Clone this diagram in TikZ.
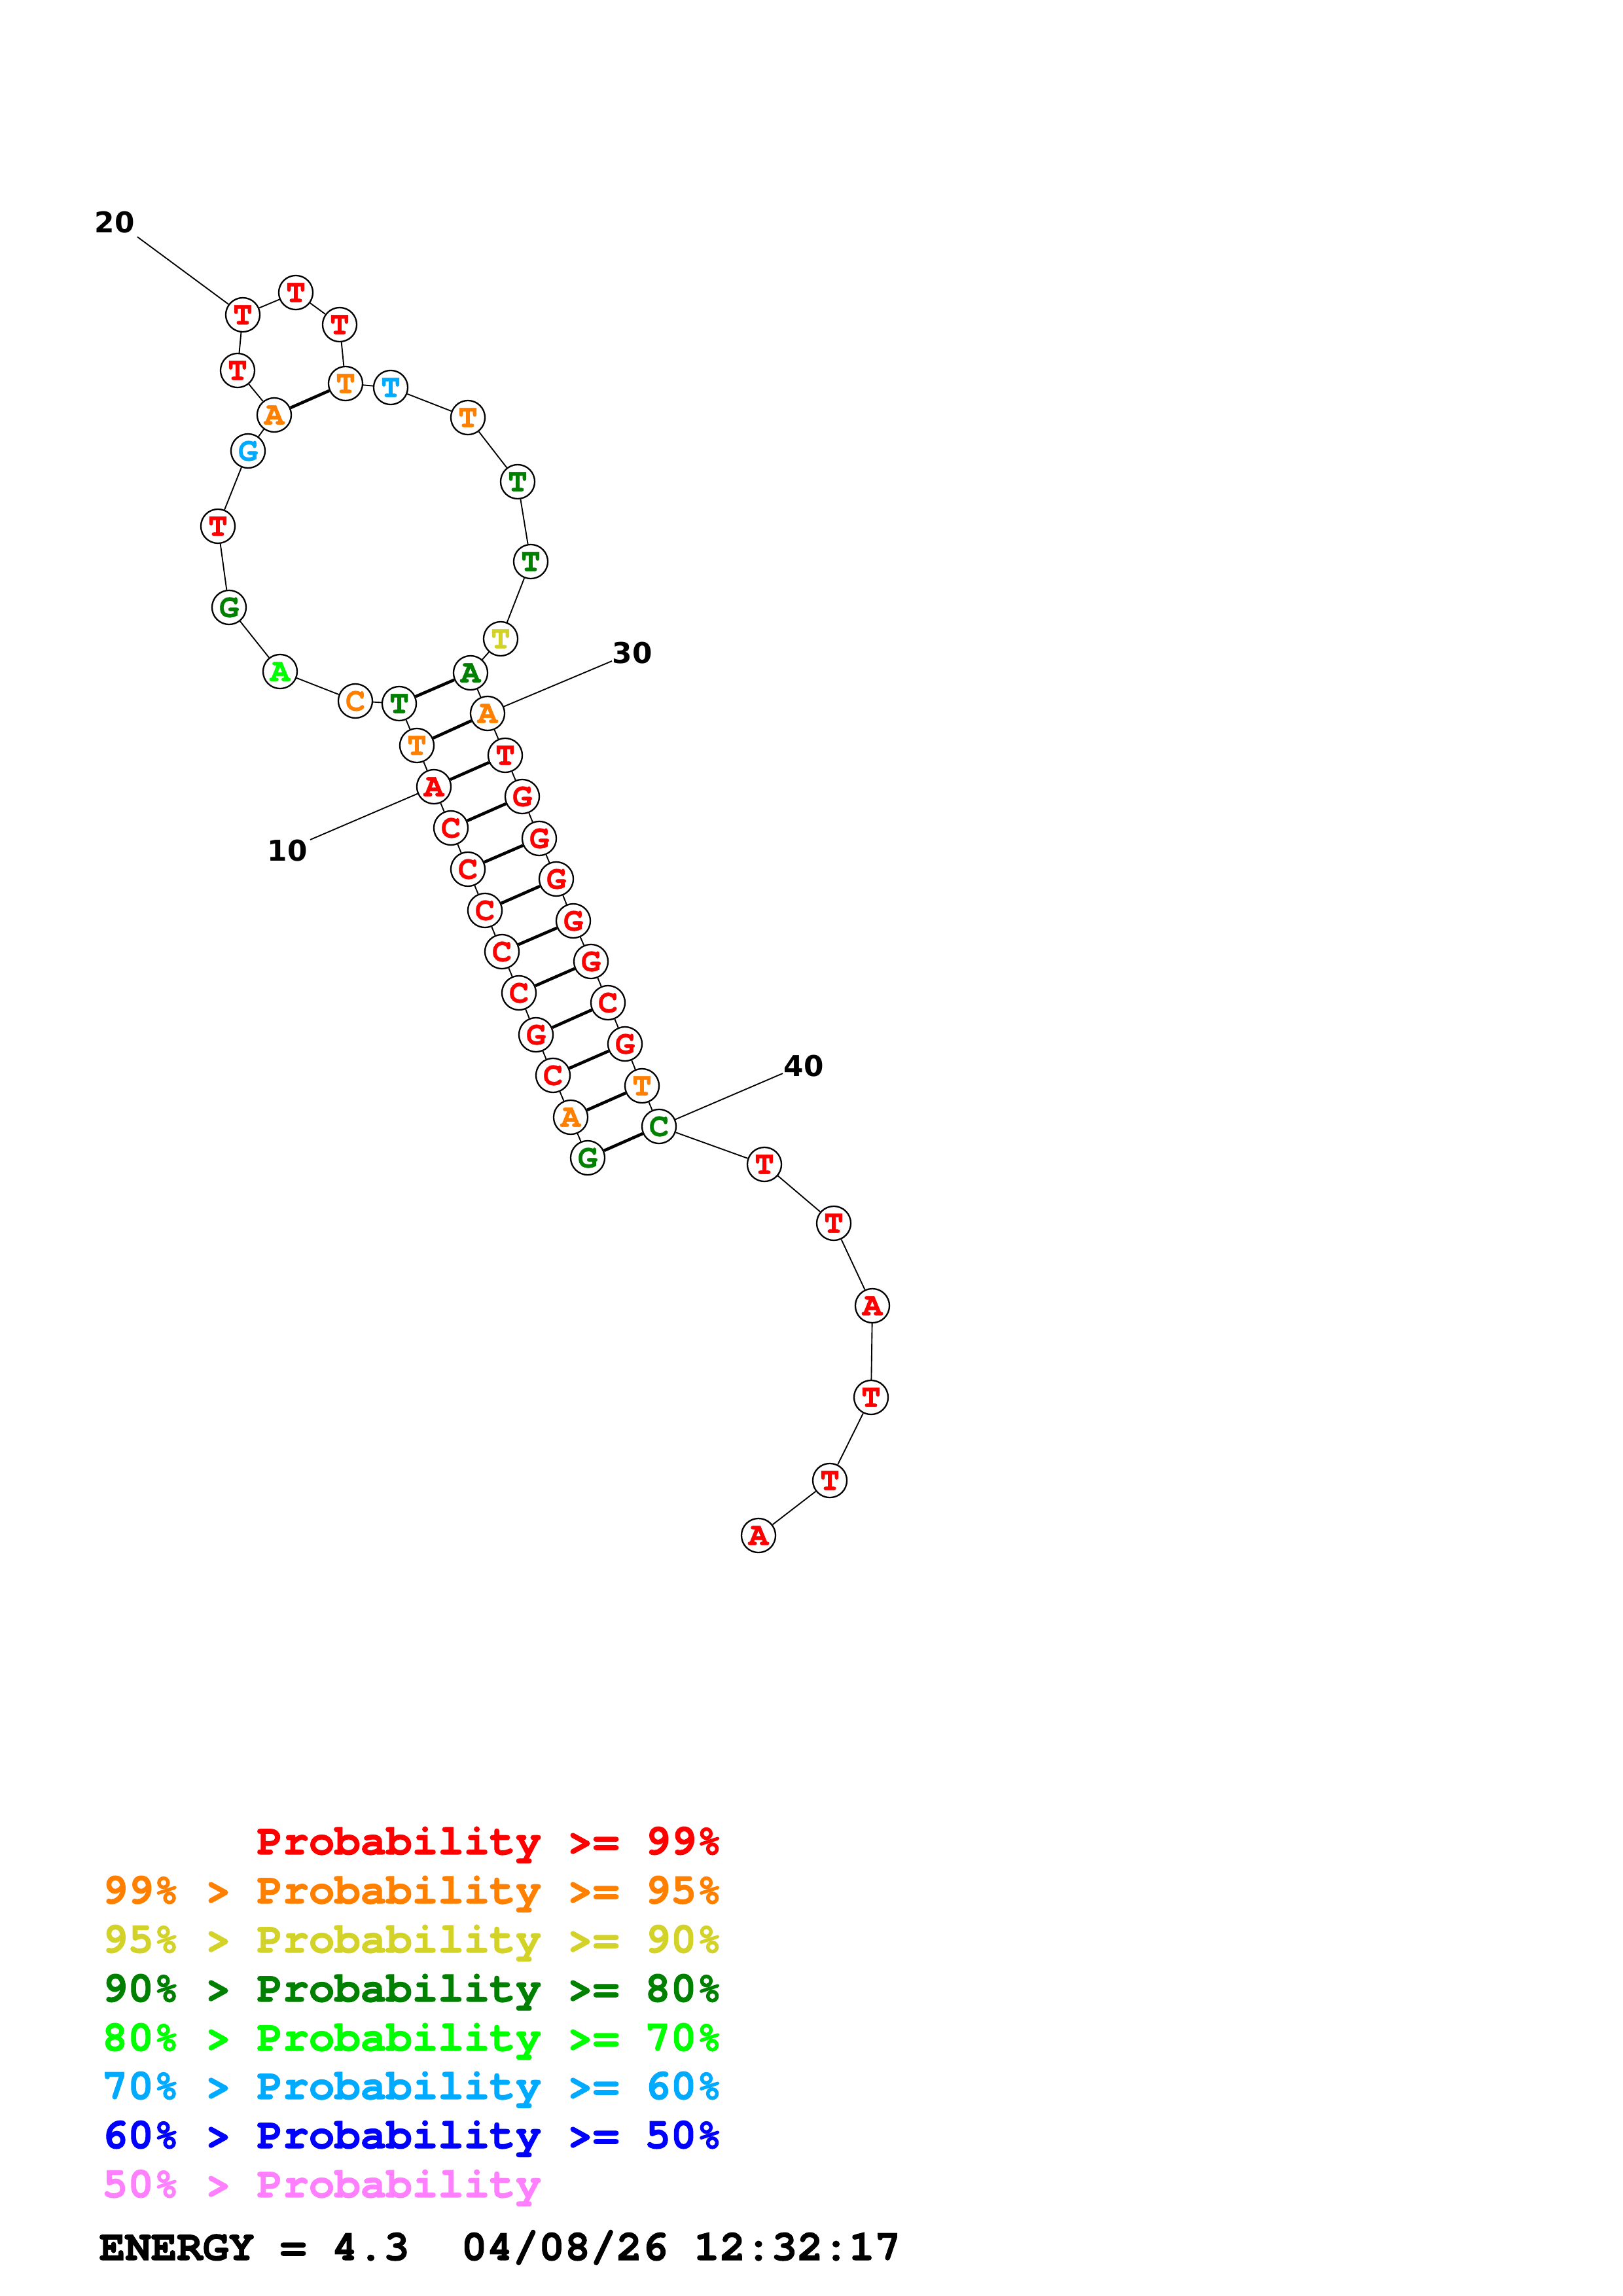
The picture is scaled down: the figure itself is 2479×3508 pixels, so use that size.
\documentclass[tikz,border=0pt]{standalone}
\usepackage{fontspec}
\newfontfamily\cour{TeX Gyre Cursor}[BoldFeatures={FakeBold=1.6}]
\newfontfamily\courn{TeX Gyre Cursor}[BoldFeatures={FakeBold=1.2}]
\newfontfamily\lab{DejaVu Sans}
\definecolor{pr}{RGB}{255,0,0}
\definecolor{po}{RGB}{255,128,0}
\definecolor{py}{RGB}{210,210,40}
\definecolor{pg}{RGB}{0,128,0}
\definecolor{pl}{RGB}{0,255,0}
\definecolor{pc}{RGB}{0,170,255}
\definecolor{pb}{RGB}{0,0,255}
\definecolor{pp}{RGB}{255,128,255}
\begin{document}
\begin{tikzpicture}[x=0.24pt,y=-0.24pt,
  base/.style={circle,draw,fill=white,minimum size=12.5pt,inner sep=0pt,line width=0.55pt,font=\courn\bfseries\fontsize{12}{12}\selectfont},
  bb/.style={line width=0.45pt},
  bond/.style={line width=1.1pt},
  lbl/.style={font=\lab\bfseries\fontsize{10.5}{10.5}\selectfont,inner sep=0pt},
  leg/.style={anchor=base west,font=\cour\bfseries\fontsize{15.8}{16}\selectfont,inner sep=0pt}]
\fill[white] (0,0) rectangle (2479,3508);
\useasboundingbox (0,0) rectangle (2479,3508);
\foreach \i/\x/\y/\b/\c in {
1/898/1769/G/pg, 2/872/1707/A/po, 3/845/1643/C/pr, 4/819/1581/G/pr,
5/793/1517/C/pr, 6/767/1454/C/pr, 7/741/1391/C/pr, 8/715/1328/C/pr,
9/689/1265/C/pr, 10/663/1202/A/pr, 11/637/1139/T/po, 12/610/1075/T/pg,
13/543/1071/C/po, 14/428/1026/A/pl, 15/350/928/G/pg, 16/333/804/T/pr,
17/379/689/G/pc, 18/419/634/A/po, 19/363/566/T/pr, 20/371/481/T/pr,
21/452/447/T/pr, 22/519/496/T/pr, 23/528/586/T/po, 24/597/592/T/pc,
25/715/638/T/po, 26/791/736/T/pg, 27/811/858/T/pg, 28/765/976/T/py,
29/719/1028/A/pg, 30/745/1090/A/po, 31/772/1154/T/pr, 32/798/1217/G/pr,
33/824/1281/G/pr, 34/850/1343/G/pr, 35/876/1407/G/pr, 36/903/1469/G/pr,
37/929/1532/C/pr, 38/955/1595/G/pr, 39/981/1659/T/po, 40/1007/1721/C/pg,
41/1168/1779/T/pr, 42/1274/1869/T/pr, 43/1333/1995/A/pr, 44/1331/2135/T/pr,
45/1268/2262/T/pr, 46/1159/2346/A/pr}
  \node[base,text=\c] (n\i) at (\x,\y) {\b};
\foreach \i in {1,...,45}{\pgfmathtruncatemacro\j{\i+1}\draw[bb] (n\i) -- (n\j);}
\foreach \a/\b in {1/40,2/39,3/38,4/37,5/36,6/35,7/34,8/33,9/32,10/31,11/30,12/29,18/23}
  \draw[bond] (n\a) -- (n\b);
\node[lbl] (L20) at (175,340) {20};
\node[lbl] (L30) at (966,998) {30};
\node[lbl] (L10) at (439,1300) {10};
\node[lbl] (L40) at (1228,1629) {40};
\coordinate (e20) at (210,362);
\coordinate (e30) at (935,1010);
\coordinate (e10) at (474,1283);
\coordinate (e40) at (1196,1640);
\draw[bb] (n20) -- (e20);
\draw[bb] (n30) -- (e30);
\draw[bb] (n10) -- (e10);
\draw[bb] (n40) -- (e40);
\node[leg,text=pr] (g1) at (392,2833) {Probability >= 99\%};
\node[leg,text=po] (g2) at (155,2908) {99\% > Probability >= 95\%};
\node[leg,text=py] (g3) at (155,2983) {95\% > Probability >= 90\%};
\node[leg,text=pg] (g4) at (155,3058) {90\% > Probability >= 80\%};
\node[leg,text=pl] (g5) at (155,3133) {80\% > Probability >= 70\%};
\node[leg,text=pc] (g6) at (155,3207) {70\% > Probability >= 60\%};
\node[leg,text=pb] (g7) at (155,3282) {60\% > Probability >= 50\%};
\node[leg,text=pp] (g8) at (155,3357) {50\% > Probability};
\node[leg,text=black] (en) at (151,3453) {ENERGY = 4.3\ \ 04/08/26 12:32:17};
\end{tikzpicture}
\end{document}
